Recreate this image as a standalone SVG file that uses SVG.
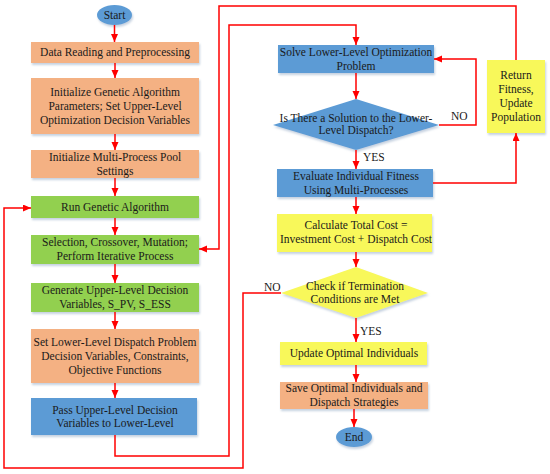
<svg xmlns="http://www.w3.org/2000/svg" width="550" height="474" viewBox="0 0 550 474" font-family="'Liberation Serif', 'Times New Roman', serif" font-size="11.5">
<style>
text{font-family:'Liberation Serif','Times New Roman',serif;font-size:11.5px;fill:#1a1a1a;text-anchor:middle}
.o{fill:#F4B183}.g{fill:#92D050}.b{fill:#5B9BD5}.y{fill:#F8F85A}
.sh{filter:url(#sh)}
.c path{fill:none;stroke:#FF0000;stroke-width:1.5;marker-end:url(#ah)}
text.lbl{text-anchor:start}
</style>
<defs>
<filter id="sh" x="-10%" y="-10%" width="130%" height="140%">
<feDropShadow dx="1" dy="2" stdDeviation="1.2" flood-color="#9fb3cc" flood-opacity="0.6"/>
</filter>
<marker id="ah" markerUnits="userSpaceOnUse" markerWidth="9" markerHeight="8" refX="8" refY="3.5" orient="auto">
<path d="M0,0 L8,3.5 L0,7 z" fill="#FF0000"/>
</marker>
</defs>
<rect width="550" height="474" fill="#fff"/>

<g id="start"><ellipse class="b sh" cx="114.5" cy="15" rx="17.5" ry="10"/><text x="114.5" y="19">Start</text></g>
<g id="data"><rect class="o sh" x="31" y="42" width="168" height="21"/><text x="115" y="56">Data Reading and Preprocessing</text></g>
<g id="initga"><rect class="o sh" x="31" y="78" width="168" height="56"/><text x="115" y="96">Initialize Genetic Algorithm</text><text x="115" y="110">Parameters; Set Upper-Level</text><text x="115" y="124">Optimization Decision Variables</text></g>
<g id="pool"><rect class="o sh" x="31" y="150" width="168" height="28"/><text x="115" y="161">Initialize Multi-Process Pool</text><text x="115" y="175">Settings</text></g>
<g id="run"><rect class="g sh" x="31" y="196" width="168" height="22"/><text x="115" y="211">Run Genetic Algorithm</text></g>
<g id="sel"><rect class="g sh" x="31" y="235" width="168" height="29"/><text x="115" y="246">Selection, Crossover, Mutation;</text><text x="115" y="260">Perform Iterative Process</text></g>
<g id="gen"><rect class="g sh" x="31" y="283" width="168" height="29"/><text x="115" y="294">Generate Upper-Level Decision</text><text x="115" y="308">Variables, S_PV, S_ESS</text></g>
<g id="setll"><rect class="o sh" x="31" y="329" width="168" height="54"/><text x="115" y="346">Set Lower-Level Dispatch Problem</text><text x="115" y="360">Decision Variables, Constraints,</text><text x="115" y="374">Objective Functions</text></g>
<g id="pass"><rect class="b sh" x="31" y="398" width="166" height="37"/><text x="115" y="414">Pass Upper-Level Decision</text><text x="115" y="427">Variables to Lower-Level</text></g>

<g id="solve"><rect class="b sh" x="278" y="45" width="156" height="28"/><text x="356" y="56">Solve Lower-Level Optimization</text><text x="356" y="70">Problem</text></g>
<g id="dia1"><polygon class="b sh" points="356,99 439,125 356,150 273,125"/><text x="356" y="122">Is There a Solution to the Lower-</text><text x="356" y="134">Level Dispatch?</text></g>
<g id="eval"><rect class="b sh" x="277" y="169" width="156" height="28"/><text x="356" y="180">Evaluate Individual Fitness</text><text x="356" y="194">Using Multi-Processes</text></g>
<g id="ret"><rect class="y sh" x="487" y="60" width="58" height="73"/><text x="516" y="79">Return</text><text x="516" y="93">Fitness,</text><text x="516" y="107">Update</text><text x="516" y="121">Population</text></g>
<g id="calc"><rect class="y sh" x="277" y="214" width="155" height="38"/><text x="356" y="229">Calculate Total Cost =</text><text x="356" y="243">Investment Cost + Dispatch Cost</text></g>
<g id="dia2"><polygon class="y sh" points="356,267 428,293 356,318 281,293"/><text x="355" y="290">Check if Termination</text><text x="355" y="303">Conditions are Met</text></g>
<g id="upd"><rect class="y sh" x="280" y="342" width="147" height="23"/><text x="354" y="357">Update Optimal Individuals</text></g>
<g id="save"><rect class="o sh" x="280" y="382" width="148" height="27"/><text x="354" y="392">Save Optimal Individuals and</text><text x="354" y="406">Dispatch Strategies</text></g>
<g id="end"><ellipse class="b sh" cx="354" cy="437" rx="18" ry="10"/><text x="354" y="441">End</text></g>

<g id="connectors" class="c">
<path d="M114.5,25 V42"/>
<path d="M115,63 V78"/>
<path d="M115,134 V150"/>
<path d="M115,178 V196"/>
<path d="M115,218 V235"/>
<path d="M115,264 V283"/>
<path d="M115,312 V329"/>
<path d="M115,383 V398"/>
<path d="M115,435 V456 H229 V25 H356 V45"/>
<path d="M356,73 V99"/>
<path d="M439,125 H476 V59 H434"/>
<path d="M356,150 V169"/>
<path d="M433,183 H516 V133"/>
<path d="M516,60 V6 H219 V249 H199"/>
<path d="M356,197 V214"/>
<path d="M356,252 V267"/>
<path d="M281,293 H243 V468 H4 V208 H31"/>
<path d="M356,318 V342"/>
<path d="M356,365 V382"/>
<path d="M354,409 V427"/>
</g>
<g id="labels">
<text class="lbl" x="451" y="120">NO</text>
<text class="lbl" x="363" y="161">YES</text>
<text class="lbl" x="264" y="291">NO</text>
<text class="lbl" x="360" y="335">YES</text>
</g>
</svg>
